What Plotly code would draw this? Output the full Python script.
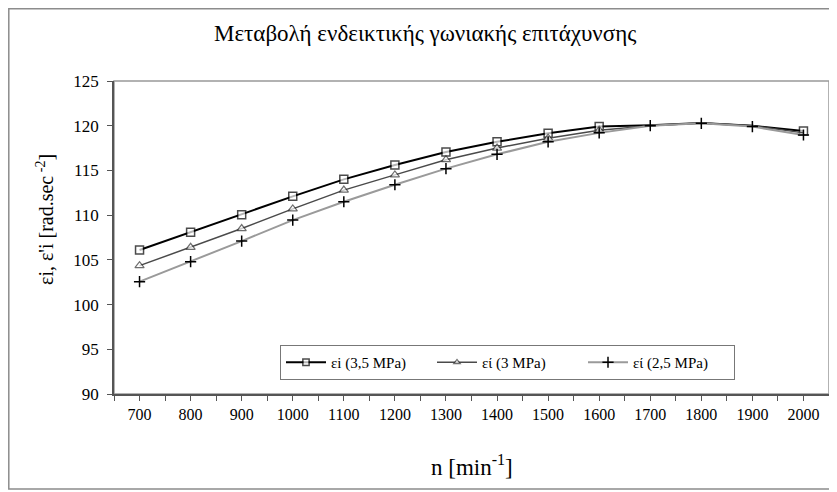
import plotly.graph_objects as go

# ---- data ----
n_rpm = [700, 800, 900, 1000, 1100, 1200, 1300, 1400, 1500, 1600, 1700, 1800, 1900, 2000]
eps_35 = [106.1, 108.1, 110.05, 112.1, 114.0, 115.6, 117.05, 118.2, 119.15, 119.9, 120.05, 120.3, 120.0, 119.4]
eps_30 = [104.35, 106.4, 108.5, 110.7, 112.8, 114.5, 116.2, 117.5, 118.6, 119.5, 120.0, 120.3, 120.0, 119.2]
eps_25 = [102.56, 104.8, 107.1, 109.45, 111.5, 113.4, 115.2, 116.8, 118.2, 119.2, 120.0, 120.27, 119.9, 118.96]
names = ["εi (3,5 MPa)", "εί (3 MPa)", "εί (2,5 MPa)"]
x_ticks = [700, 800, 900, 1000, 1100, 1200, 1300, 1400, 1500, 1600, 1700, 1800, 1900, 2000]
y_ticks = [90, 95, 100, 105, 110, 115, 120, 125]

FONT = "Liberation Serif, Times New Roman, serif"

# marker visibility (styling only)
sq_sizes = [8] * 10 + [0, 0, 0] + [8]
tri_sizes = [8] * 10 + [0, 0, 0, 0]

# page body has an 8px margin: figure is laid out in (reference - 8) pixel coords
W, H = 829, 484
L, R, T, B = 106, 8, 73, 98
PW, PH = W - L - R, H - T - B


def px(x):  # reference x pixel -> paper
    return (x - 8 - L) / PW


def py(y):  # reference y pixel -> paper
    return (H - B - (y - 8)) / PH


fig = go.Figure()
fig.add_trace(go.Scatter(
    x=n_rpm, y=eps_35, name=names[0], mode="lines+markers",
    line=dict(color="black", width=2),
    marker=dict(symbol="square", size=sq_sizes, color="white", line=dict(color="black", width=1.5)),
))
fig.add_trace(go.Scatter(
    x=n_rpm, y=eps_30, name=names[1], mode="lines+markers",
    line=dict(color="#4a4a4a", width=1.5),
    marker=dict(symbol="triangle-up", size=tri_sizes, color="white", line=dict(color="#333333", width=1.2)),
))
fig.add_trace(go.Scatter(
    x=n_rpm, y=eps_25, name=names[2], mode="lines+markers",
    line=dict(color="#9a9a9a", width=2),
    marker=dict(symbol="cross-thin-open", size=8, color="black", line=dict(color="black", width=1.5)),
))

# plot-area border (gray) and outer chart border
fig.add_shape(type="rect", xref="paper", yref="paper", x0=0, x1=1, y0=0, y1=1,
              line=dict(color="#999999", width=1.5), layer="below")
fig.add_shape(type="rect", xref="paper", yref="paper",
              x0=(0.8 - L) / PW, x1=(826 - L) / PW,
              y0=(H - B - 481) / PH, y1=(H - B - 0.8) / PH,
              line=dict(color="#8c8c8c", width=1.5), layer="below")

fig.add_annotation(text="Μεταβολή ενδεικτικής γωνιακής επιτάχυνσης", xref="paper", yref="paper",
                   x=px(425), y=py(33), showarrow=False,
                   font=dict(family=FONT, size=23, color="black"), xanchor="center", yanchor="middle")
fig.add_annotation(text="n [min<sup>-1</sup>]", xref="paper", yref="paper",
                   x=px(472), y=py(466), showarrow=False,
                   font=dict(family=FONT, size=23, color="black"), xanchor="center", yanchor="middle")
fig.add_annotation(text="εi, ε'i [rad.sec<sup> -2</sup>]", xref="paper", yref="paper",
                   x=px(45), y=py(220), showarrow=False, textangle=-90,
                   font=dict(family=FONT, size=20, color="black"), xanchor="center", yanchor="middle")

fig.update_layout(
    width=W, height=H,
    margin=dict(l=L, r=R, t=T, b=B, autoexpand=False),
    paper_bgcolor="white", plot_bgcolor="white",
    font=dict(family=FONT, size=16, color="black"),
    showlegend=True,
    legend=dict(orientation="h", x=px(280), y=py(345),
                xanchor="left", yanchor="top",
                bordercolor="#777777", borderwidth=1, bgcolor="white",
                font=dict(family=FONT, size=15, color="black"),
                entrywidth=96, entrywidthmode="pixels",
                itemwidth=40, tracegroupgap=0),
    xaxis=dict(range=[650, 2050], tickvals=x_ticks, ticktext=[str(v) for v in x_ticks],
               ticks="outside", ticklen=5, tickcolor="#555555",
               minor=dict(ticks="outside", dtick=50, tick0=650, ticklen=5, tickcolor="#555555"),
               showline=True, linecolor="#555555", linewidth=1.5,
               showgrid=False, zeroline=False, automargin=False,
               tickfont=dict(family=FONT, size=16, color="black")),
    yaxis=dict(range=[90, 125], tickvals=y_ticks,
               ticks="outside", ticklen=5, tickcolor="#555555", ticklabelstandoff=5,
               showline=True, linecolor="#555555", linewidth=1.5,
               showgrid=False, zeroline=False, automargin=False,
               tickfont=dict(family=FONT, size=17, color="black")),
)

fig.write_html("out.html")
